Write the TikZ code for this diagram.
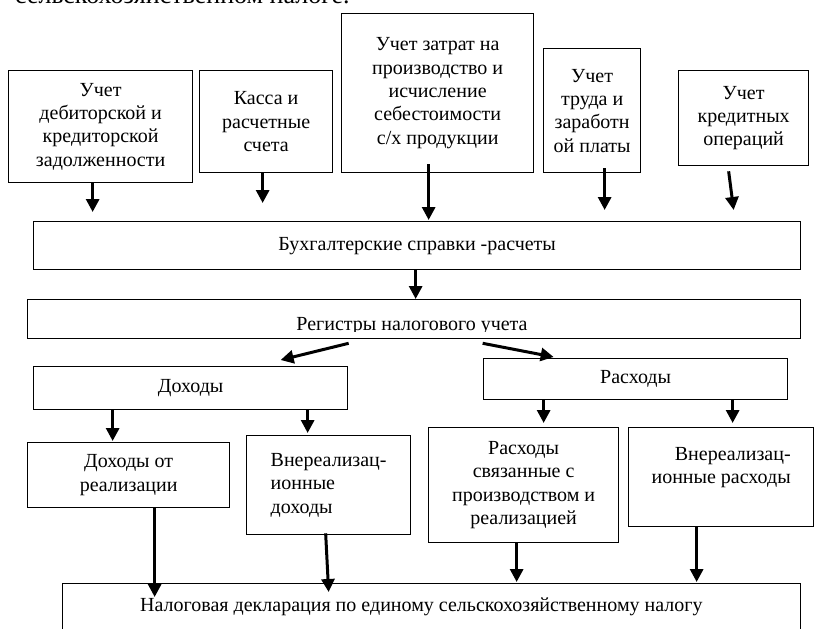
\documentclass[tikz,border=0pt]{standalone}
\usepackage{fontspec}
\setmainfont{Liberation Serif}
\usetikzlibrary{arrows.meta,calc}
\begin{document}
\begin{tikzpicture}[x=1pt,y=-1pt,
  box/.style={draw, line width=1.3pt, inner sep=0pt, anchor=north west, align=center, font=\fontsize{20}{23.3}\selectfont},
  lbl/.style={inner sep=0pt, font=\fontsize{20}{23.3}\selectfont},
  arr/.style={line width=3pt, -{Triangle[length=13pt,width=13pt]}}]
\useasboundingbox (0,0) rectangle (815,629);

% cut-off line of body text at the top
\node[inner sep=0pt, anchor=base west, font=\fontsize{26}{30}\selectfont] (toptext) at (15,4) {сельскохозяйственном налоге.};

% top row
\node[box, minimum width=184pt, minimum height=112pt] (b1) at (8,70) {Учет\\дебиторской и\\кредиторской\\задолженности};
\node[box, minimum width=133pt, minimum height=102pt] (b2) at (199,70) {Касса и\\расчетные\\счета};
\node[box, minimum width=192pt, minimum height=159pt] (b3) at (341,13) {Учет затрат на\\производство и\\исчисление\\себестоимости\\с/х продукции};
\node[box, minimum width=97pt, minimum height=124pt] (b4) at (543,48) {Учет\\труда и\\заработн\\ой платы};
\node[box, minimum width=130pt, minimum height=95pt] (b5) at (678,70) {Учет\\кредитных\\операций};

% wide boxes
\node[box, minimum width=767pt, minimum height=48pt] (buh) at (33,221) {Бухгалтерские справки -расчеты};
\node[box, minimum width=773pt, minimum height=39pt] (reg) at (27,299) {};
\begin{scope}
  \clip (27,299) rectangle (800,331);
  \node[lbl, anchor=base] (regt) at (412,330) {Регистры налогового учета};
\end{scope}

\node[box, minimum width=314pt, minimum height=43pt] (doh) at (33,366) {Доходы};
\node[box, minimum width=304pt, minimum height=41pt] (rash) at (483,358) {Расходы};

\node[box, minimum width=202pt, minimum height=65pt] (dr) at (27,442) {Доходы от\\реализации};
\node[box, minimum width=164pt, minimum height=99pt, align=left] (dv) at (246,435) {Внереализац-\\ионные\\доходы};
\node[box, minimum width=190pt, minimum height=115pt] (rs) at (428,427) {Расходы\\связанные с\\производством и\\реализацией};
\node[box, minimum width=185pt, minimum height=99pt, align=right] (rv) at (628,427) {Внереализац-\\ионные расходы\\~};

\node[box, minimum width=738pt, minimum height=100pt] (nal) at (62,583) {};
\node[lbl, anchor=base west] (nalt) at (140,611) {Налоговая декларация по единому сельскохозяйственному налогу};

% arrows top row -> buh
\draw[arr] ($(b1.south)+(-8,0)$) -- ($(buh.north)+(-324.5,-9)$);
\draw[arr] ($(b2.south)+(-3.5,0)$) -- ($(buh.north)+(-154.5,-18)$);
\draw[arr] ($(b3.south)+(-9,-9)$) -- ($(buh.north)+(11.5,-1)$);
\draw[arr] ($(b4.south)+(12.5,-5)$) -- ($(buh.north)+(187.5,-11)$);
\draw[arr] ($(b5.south)+(-15,5)$) -- ($(buh.north)+(316.5,-11)$);

\draw[arr] ($(buh.south)+(-1.5,0)$) -- ($(reg.north)+(1.5,0)$);

\draw[arr] ($(reg.south)+(-65.5,4)$) -- ($(doh.north)+(90,-6)$);
\draw[arr] ($(reg.south)+(68.5,4)$) -- ($(rash.north)+(-82,-1)$);

\draw[arr] ($(doh.south)+(-78,0)$) -- ($(dr.north)+(-16,-1)$);
\draw[arr] ($(doh.south)+(117,0)$) -- ($(dv.north)+(-21,-2)$);
\draw[arr] ($(rash.south)+(-92,0)$) -- ($(rs.north)+(20,-4)$);
\draw[arr] ($(rash.south)+(97,0)$) -- ($(rv.north)+(11.5,-4)$);

\draw[arr] ($(dr.south)+(26,0)$) -- ($(nal.north)+(-277,14)$);
\draw[arr] ($(dv.south)+(-3,-2)$) -- ($(nal.north)+(-103,9)$);
\draw[arr] ($(rs.south)+(-7,0)$) -- ($(nal.north)+(85,-1)$);
\draw[arr] ($(rv.south)+(-24.5,0)$) -- ($(nal.north)+(265,-1)$);
\end{tikzpicture}
\end{document}
